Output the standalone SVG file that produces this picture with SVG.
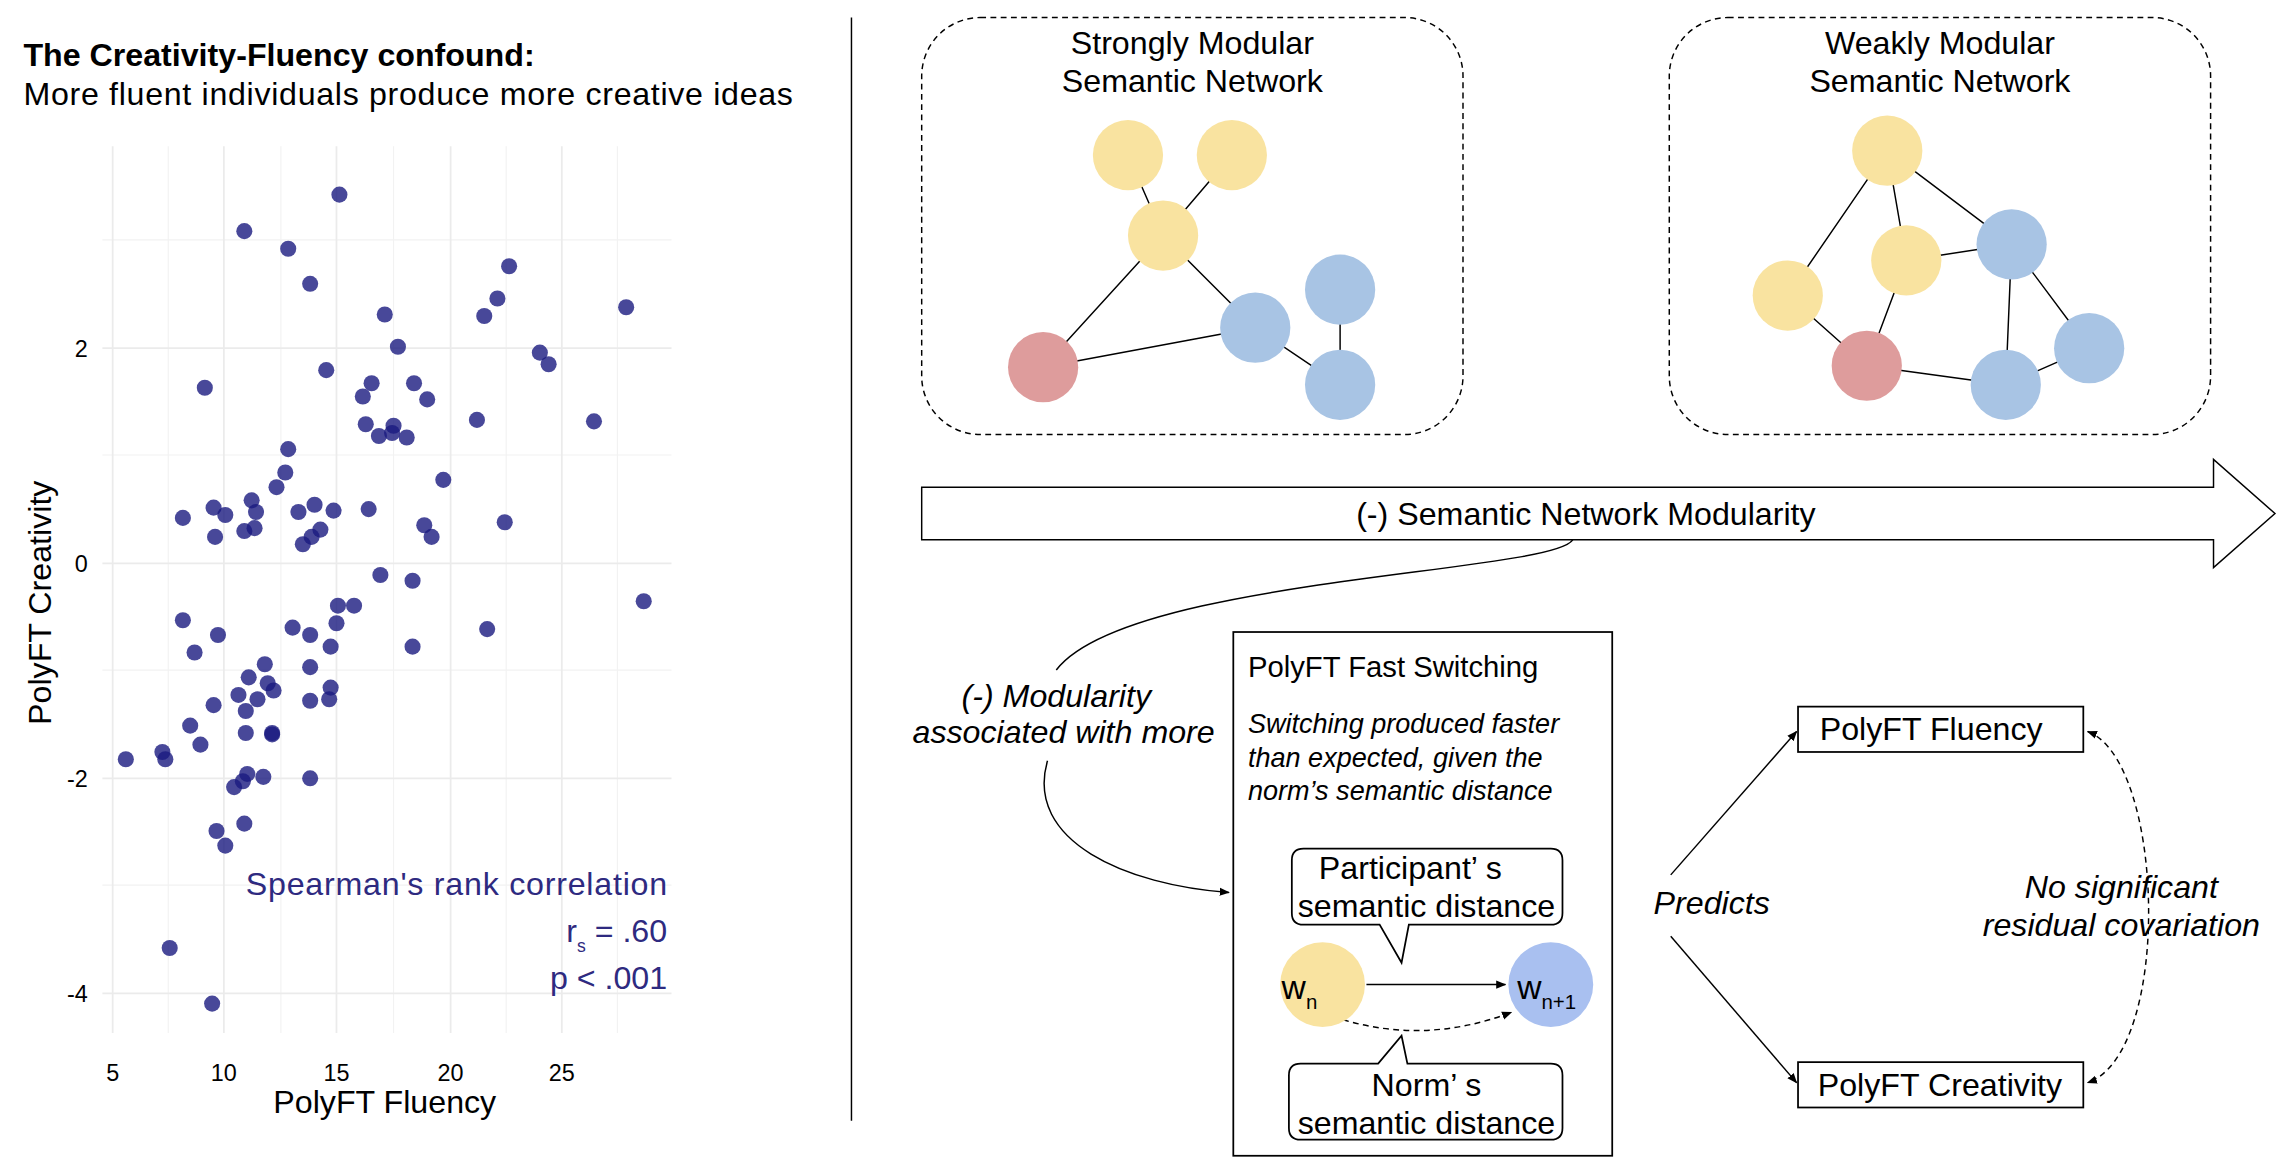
<svg xmlns="http://www.w3.org/2000/svg" width="2294" height="1170" viewBox="0 0 2294 1170">
<defs>
<style>
text{font-family:"Liberation Sans",Arial,sans-serif;fill:#000}
.g{stroke:#ebebeb;stroke-width:1.2}
.gm{stroke:#f2f2f2;stroke-width:0.8}
.tk{font-size:16px;fill:#4d4d4d}
.pt{fill:#1a1a80;fill-opacity:0.8}
.sp{fill:#2e2a80;font-size:22px;text-anchor:end}
.t20{font-size:22px;text-anchor:middle}
.it{font-style:italic}
.e{stroke:#000;stroke-width:1;fill:none}
.y{fill:#f9e3a0}.b{fill:#a8c4e4}.r{fill:#de9c9c}
.box{fill:#fff;stroke:#000;stroke-width:1.2}
</style>
<marker id="ah" viewBox="0 0 10 10" refX="9" refY="5" markerWidth="7" markerHeight="7" orient="auto-start-reverse"><path d="M0,1 L10,5 L0,9 z" fill="#000"/></marker>
</defs>
<rect width="2294" height="1170" fill="#fff"/>
<g transform="scale(1.463)">
<g id="plot">
<text x="16" y="45" font-size="22" font-weight="bold">The Creativity-Fluency confound:</text>
<text x="16" y="72" font-size="22" textLength="526">More fluent individuals produce more creative ideas</text>
<g>
<line class="gm" x1="115" y1="100" x2="115" y2="706"/><line class="gm" x1="192" y1="100" x2="192" y2="706"/><line class="gm" x1="269" y1="100" x2="269" y2="706"/><line class="gm" x1="346" y1="100" x2="346" y2="706"/><line class="gm" x1="422" y1="100" x2="422" y2="706"/>
<line class="gm" x1="70" y1="164" x2="459" y2="164"/><line class="gm" x1="70" y1="311" x2="459" y2="311"/><line class="gm" x1="70" y1="458" x2="459" y2="458"/><line class="gm" x1="70" y1="605" x2="459" y2="605"/>
<line class="g" x1="77" y1="100" x2="77" y2="706"/><line class="g" x1="153" y1="100" x2="153" y2="706"/><line class="g" x1="230" y1="100" x2="230" y2="706"/><line class="g" x1="308" y1="100" x2="308" y2="706"/><line class="g" x1="384" y1="100" x2="384" y2="706"/>
<line class="g" x1="70" y1="238" x2="459" y2="238"/><line class="g" x1="70" y1="385" x2="459" y2="385"/><line class="g" x1="70" y1="532" x2="459" y2="532"/><line class="g" x1="70" y1="679" x2="459" y2="679"/>
</g>
<g class="tk">
<text x="60" y="244" text-anchor="end">2</text><text x="60" y="391" text-anchor="end">0</text><text x="60" y="538" text-anchor="end">-2</text><text x="60" y="685" text-anchor="end">-4</text>
<text x="77" y="739" text-anchor="middle">5</text><text x="153" y="739" text-anchor="middle">10</text><text x="230" y="739" text-anchor="middle">15</text><text x="308" y="739" text-anchor="middle">20</text><text x="384" y="739" text-anchor="middle">25</text>
</g>
<text x="263" y="761" class="t20" font-size="20">PolyFT Fluency</text>
<text transform="translate(35,412) rotate(-90)" class="t20" font-size="20">PolyFT Creativity</text>
<g>
<circle class="pt" r="5.5" cx="232" cy="133"/><circle class="pt" r="5.5" cx="167" cy="158"/><circle class="pt" r="5.5" cx="197" cy="170"/><circle class="pt" r="5.5" cx="212" cy="194"/><circle class="pt" r="5.5" cx="263" cy="215"/><circle class="pt" r="5.5" cx="348" cy="182"/><circle class="pt" r="5.5" cx="340" cy="204"/><circle class="pt" r="5.5" cx="331" cy="216"/><circle class="pt" r="5.5" cx="428" cy="210"/><circle class="pt" r="5.5" cx="272" cy="237"/><circle class="pt" r="5.5" cx="223" cy="253"/><circle class="pt" r="5.5" cx="140" cy="265"/><circle class="pt" r="5.5" cx="369" cy="241"/><circle class="pt" r="5.5" cx="375" cy="249"/><circle class="pt" r="5.5" cx="248" cy="271"/><circle class="pt" r="5.5" cx="254" cy="262"/><circle class="pt" r="5.5" cx="283" cy="262"/><circle class="pt" r="5.5" cx="292" cy="273"/><circle class="pt" r="5.5" cx="250" cy="290"/><circle class="pt" r="5.5" cx="259" cy="298"/><circle class="pt" r="5.5" cx="269" cy="291"/><circle class="pt" r="5.5" cx="268" cy="296"/><circle class="pt" r="5.5" cx="278" cy="299"/><circle class="pt" r="5.5" cx="326" cy="287"/><circle class="pt" r="5.5" cx="406" cy="288"/><circle class="pt" r="5.5" cx="197" cy="307"/><circle class="pt" r="5.5" cx="195" cy="323"/><circle class="pt" r="5.5" cx="189" cy="333"/><circle class="pt" r="5.5" cx="303" cy="328"/><circle class="pt" r="5.5" cx="125" cy="354"/><circle class="pt" r="5.5" cx="146" cy="347"/><circle class="pt" r="5.5" cx="154" cy="352"/><circle class="pt" r="5.5" cx="172" cy="342"/><circle class="pt" r="5.5" cx="175" cy="350"/><circle class="pt" r="5.5" cx="174" cy="361"/><circle class="pt" r="5.5" cx="204" cy="350"/><circle class="pt" r="5.5" cx="215" cy="345"/><circle class="pt" r="5.5" cx="228" cy="349"/><circle class="pt" r="5.5" cx="252" cy="348"/><circle class="pt" r="5.5" cx="219" cy="362"/><circle class="pt" r="5.5" cx="213" cy="367"/><circle class="pt" r="5.5" cx="207" cy="372"/><circle class="pt" r="5.5" cx="147" cy="367"/><circle class="pt" r="5.5" cx="167" cy="363"/><circle class="pt" r="5.5" cx="290" cy="359"/><circle class="pt" r="5.5" cx="295" cy="367"/><circle class="pt" r="5.5" cx="345" cy="357"/><circle class="pt" r="5.5" cx="260" cy="393"/><circle class="pt" r="5.5" cx="282" cy="397"/><circle class="pt" r="5.5" cx="440" cy="411"/><circle class="pt" r="5.5" cx="231" cy="414"/><circle class="pt" r="5.5" cx="242" cy="414"/><circle class="pt" r="5.5" cx="230" cy="426"/><circle class="pt" r="5.5" cx="200" cy="429"/><circle class="pt" r="5.5" cx="212" cy="434"/><circle class="pt" r="5.5" cx="226" cy="442"/><circle class="pt" r="5.5" cx="282" cy="442"/><circle class="pt" r="5.5" cx="333" cy="430"/><circle class="pt" r="5.5" cx="125" cy="424"/><circle class="pt" r="5.5" cx="149" cy="434"/><circle class="pt" r="5.5" cx="133" cy="446"/><circle class="pt" r="5.5" cx="181" cy="454"/><circle class="pt" r="5.5" cx="170" cy="463"/><circle class="pt" r="5.5" cx="183" cy="467"/><circle class="pt" r="5.5" cx="187" cy="472"/><circle class="pt" r="5.5" cx="176" cy="478"/><circle class="pt" r="5.5" cx="163" cy="475"/><circle class="pt" r="5.5" cx="168" cy="486"/><circle class="pt" r="5.5" cx="146" cy="482"/><circle class="pt" r="5.5" cx="212" cy="456"/><circle class="pt" r="5.5" cx="226" cy="470"/><circle class="pt" r="5.5" cx="212" cy="479"/><circle class="pt" r="5.5" cx="225" cy="478"/><circle class="pt" r="5.5" cx="186" cy="501"/><circle class="pt" r="5.5" cx="168" cy="501"/><circle class="pt" r="5.5" cx="130" cy="496"/><circle class="pt" r="5.5" cx="137" cy="509"/><circle class="pt" r="5.5" cx="111" cy="514"/><circle class="pt" r="5.5" cx="113" cy="519"/><circle class="pt" r="5.5" cx="86" cy="519"/><circle class="pt" r="5.5" cx="169" cy="529"/><circle class="pt" r="5.5" cx="180" cy="531"/><circle class="pt" r="5.5" cx="166" cy="534"/><circle class="pt" r="5.5" cx="160" cy="538"/><circle class="pt" r="5.5" cx="212" cy="532"/><circle class="pt" r="5.5" cx="167" cy="563"/><circle class="pt" r="5.5" cx="148" cy="568"/><circle class="pt" r="5.5" cx="154" cy="578"/><circle class="pt" r="5.5" cx="116" cy="648"/><circle class="pt" r="5.5" cx="145" cy="686"/><circle class="pt" r="5.5" cx="186" cy="502"/>
</g>
<text x="456" y="612" class="sp" textLength="288">Spearman's rank correlation</text>
<text x="456" y="644" class="sp"><tspan>r</tspan><tspan font-size="12" dy="7">s</tspan><tspan dy="-7"> = .60</tspan></text>
<text x="456" y="676" class="sp">p &lt; .001</text>
</g>
<line x1="582" y1="12" x2="582" y2="766" stroke="#000" stroke-width="1"/>
<g id="strong">
<rect x="630" y="12" width="370" height="285" rx="40" fill="none" stroke="#000" stroke-dasharray="4,3"/>
<text x="815" y="37" class="t20">Strongly Modular</text><text x="815" y="63" class="t20">Semantic Network</text>
<path class="e" d="M771,106L795,161M842,106L795,161M795,161L858,224M713,251L858,224M713,251L795,161M858,224L916,263M916,198L916,263"/>
<circle class="y" cx="771" cy="106" r="24"/><circle class="y" cx="842" cy="106" r="24"/><circle class="y" cx="795" cy="161" r="24"/>
<circle class="b" cx="858" cy="224" r="24"/><circle class="b" cx="916" cy="198" r="24"/><circle class="b" cx="916" cy="263" r="24"/><circle class="r" cx="713" cy="251" r="24"/>
</g>
<g id="weak">
<rect x="1141" y="12" width="370" height="285" rx="40" fill="none" stroke="#000" stroke-dasharray="4,3"/>
<text x="1326" y="37" class="t20">Weakly Modular</text><text x="1326" y="63" class="t20">Semantic Network</text>
<path class="e" d="M1290,103L1303,178M1290,103L1375,167M1222,202L1290,103M1303,178L1375,167M1303,178L1276,250M1222,202L1276,250M1276,250L1371,263M1375,167L1371,263M1375,167L1428,238M1428,238L1371,263"/>
<circle class="y" cx="1290" cy="103" r="24"/><circle class="y" cx="1303" cy="178" r="24"/><circle class="y" cx="1222" cy="202" r="24"/>
<circle class="b" cx="1375" cy="167" r="24"/><circle class="b" cx="1428" cy="238" r="24"/><circle class="b" cx="1371" cy="263" r="24"/><circle class="r" cx="1276" cy="250" r="24"/>
</g>
<g id="modularity-arrow">
<path d="M630,333H1513V314L1555,351L1513,388V369H630Z" fill="#fff" stroke="#000" stroke-width="1"/>
<text x="1084" y="359" class="t20">(-) Semantic Network Modularity</text>
</g>
<g id="switching">
<rect x="843" y="432" width="259" height="358" class="box"/>
<text x="853" y="463" font-size="20">PolyFT Fast Switching</text>
<text x="853" y="501" font-size="18.5" class="it">Switching produced faster</text>
<text x="853" y="524" font-size="18.5" class="it">than expected, given the</text>
<text x="853" y="547" font-size="18.5" class="it">norm’s semantic distance</text>
<path d="M892,580H1060Q1068,580 1068,588V624Q1068,632 1060,632H963L958,658L943,632H891Q883,632 883,624V588Q883,580 891,580Z" class="box"/>
<text x="964" y="601" class="t20" font-size="21">Participant’ s</text><text x="975" y="627" class="t20" font-size="21">semantic distance</text>
<path d="M889,727H942L958,708L962,727H1060Q1068,727 1068,735V771Q1068,779 1060,779H889Q881,779 881,771V735Q881,727 889,727Z" class="box"/>
<text x="975" y="749" class="t20" font-size="21">Norm’ s</text><text x="975" y="775" class="t20" font-size="21">semantic distance</text>
<line x1="934" y1="673" x2="1029" y2="673" class="e" marker-end="url(#ah)"/>
<path d="M918,697Q975,714 1033,692" class="e" stroke-dasharray="4,3" marker-end="url(#ah)"/>
<circle cx="904" cy="673" r="29" class="y"/><circle cx="1060" cy="673" r="29" fill="#a9c0f0"/>
<text x="876" y="683" font-size="23">w<tspan font-size="14" dy="7">n</tspan></text>
<text x="1037" y="683" font-size="23">w<tspan font-size="14" dy="7">n+1</tspan></text>
</g>
<g id="fluency"><rect x="1229" y="483" width="195" height="31" class="box"/><text x="1320" y="506" class="t20" font-size="21">PolyFT Fluency</text></g>
<g id="creativity"><rect x="1229" y="726" width="195" height="31" class="box"/><text x="1326" y="749" class="t20" font-size="21">PolyFT Creativity</text></g>
<g id="connectors">
<path d="M1075,369C1060,392 770,395 722,458" class="e"/>
<path d="M716,520C700,575 770,605 840,610" class="e" marker-end="url(#ah)"/>
<text x="722" y="483" class="t20 it" font-size="23">(-) Modularity</text><text x="727" y="508" class="t20 it" font-size="23">associated with more</text>
<line x1="1142" y1="598" x2="1228" y2="500" class="e" marker-end="url(#ah)"/>
<line x1="1142" y1="640" x2="1228" y2="740" class="e" marker-end="url(#ah)"/>
<text x="1170" y="625" class="t20 it">Predicts</text>
<path d="M1427,500C1480,520 1485,720 1427,740" class="e" stroke-dasharray="4,3" marker-start="url(#ah)" marker-end="url(#ah)"/>
<text x="1450" y="614" class="t20 it">No significant</text><text x="1450" y="640" class="t20 it">residual covariation</text>
</g>
</g>
</svg>
